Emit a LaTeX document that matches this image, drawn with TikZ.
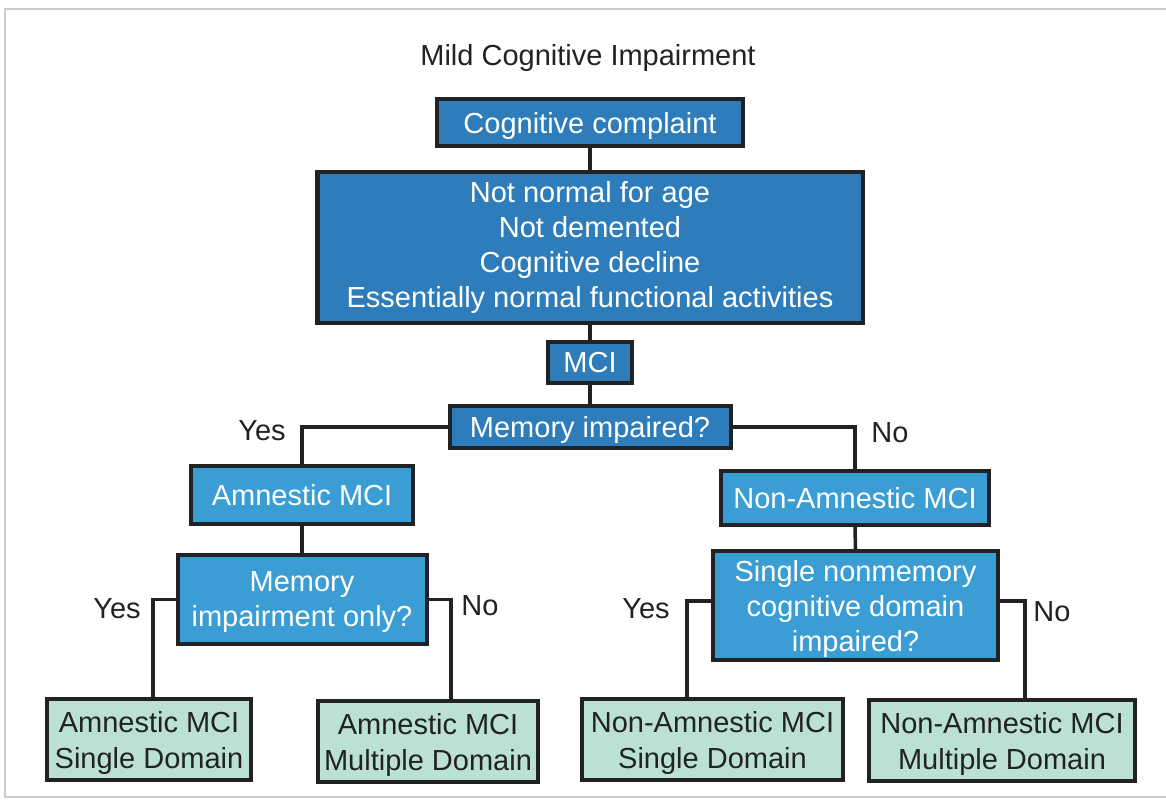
\documentclass[tikz,border=0pt]{standalone}
\usepackage{fontspec}
\setmainfont{Liberation Sans}
\definecolor{dblue}{RGB}{46,125,186}
\definecolor{lblue}{RGB}{58,158,213}
\definecolor{lgreen}{RGB}{186,225,210}
\definecolor{ink}{RGB}{34,34,34}
\definecolor{framegray}{RGB}{205,205,205}
\begin{document}
\begin{tikzpicture}[x=1bp,y=-1bp,
  box/.style={draw=ink,line width=4bp,inner sep=0pt,align=center,
    font=\fontsize{29bp}{35bp}\selectfont},
  darkbox/.style={box,fill=dblue,text=white},
  lightbox/.style={box,fill=lblue,text=white},
  leafbox/.style={box,fill=lgreen,text=ink,text depth=-3bp,
    font=\fontsize{29bp}{36bp}\selectfont},
  conn/.style={draw=ink,line width=3.5bp},
  lbl/.style={text=ink,font=\fontsize{29bp}{35bp}\selectfont,inner sep=0pt}]
\useasboundingbox (0,0) rectangle (1166,802);
\draw[framegray,line width=1.2bp] (1170,9) -- (5,9) -- (5,797) -- (1170,797);

\node[lbl] (title) at (588,58) {Mild Cognitive Impairment};

\node[darkbox,text depth=0pt,minimum width=306bp,minimum height=47bp] (cc) at (590,122.5) {Cognitive complaint};
\node[darkbox,minimum width=545bp,minimum height=151bp] (big) at (590,247.5)
  {Not normal for age\\Not demented\\Cognitive decline\\Essentially normal functional activities};
\node[darkbox,minimum width=84bp,minimum height=41bp] (mci) at (590,362.5) {MCI};
\node[darkbox,text depth=0pt,minimum width=281bp,minimum height=42bp] (mi) at (590,427) {Memory impaired?};

\node[lightbox,minimum width=222bp,minimum height=58bp] (am) at (302,495) {Amnestic MCI};
\node[lightbox,minimum width=268bp,minimum height=54bp] (nam) at (855,498) {Non-Amnestic MCI};
\node[lightbox,text depth=0pt,minimum width=249bp,minimum height=89bp] (mo) at (302,599.5) {Memory\\impairment only?};
\node[lightbox,text depth=0pt,minimum width=285bp,minimum height=109bp] (sn) at (855.5,605.5)
  {Single nonmemory\\cognitive domain\\impaired?};

\node[leafbox,minimum width=204bp,minimum height=81bp] (g1) at (149,739.5) {Amnestic MCI\\Single Domain};
\node[leafbox,minimum width=220bp,minimum height=81bp] (g2) at (428,741.5) {Amnestic MCI\\Multiple Domain};
\node[leafbox,minimum width=261bp,minimum height=81bp] (g3) at (712.5,739.5) {Non-Amnestic MCI\\Single Domain};
\node[leafbox,minimum width=266bp,minimum height=81bp] (g4) at (1002,740.5) {Non-Amnestic MCI\\Multiple Domain};

\draw[conn] (cc.south) -- (big.north);
\draw[conn] (big.south) -- (mci.north);
\draw[conn] (mci.south) -- (mi.north);
\draw[conn] (mi.west) -| (am.north);
\draw[conn] (mi.east) -| (nam.north);
\draw[conn] (am.south) -- (mo.north);
\draw[conn] (nam.south) -- (sn.north);
\draw[conn] (mo.west) -| ([xshift=4bp]g1.north);
\draw[conn] (mo.east) -| ([xshift=23bp]g2.north);
\draw[conn] ([yshift=4.5bp]sn.west) -| ([xshift=-25.5bp]g3.north);
\draw[conn] ([yshift=4.5bp]sn.east) -| ([xshift=23bp]g4.north);

\node[lbl] (y1) at (262,431) {Yes};
\node[lbl] (n1) at (890,433) {No};
\node[lbl] (y2) at (117,609) {Yes};
\node[lbl] (n2) at (480,606) {No};
\node[lbl] (y3) at (646,609) {Yes};
\node[lbl] (n3) at (1052,612) {No};
\end{tikzpicture}
\end{document}
